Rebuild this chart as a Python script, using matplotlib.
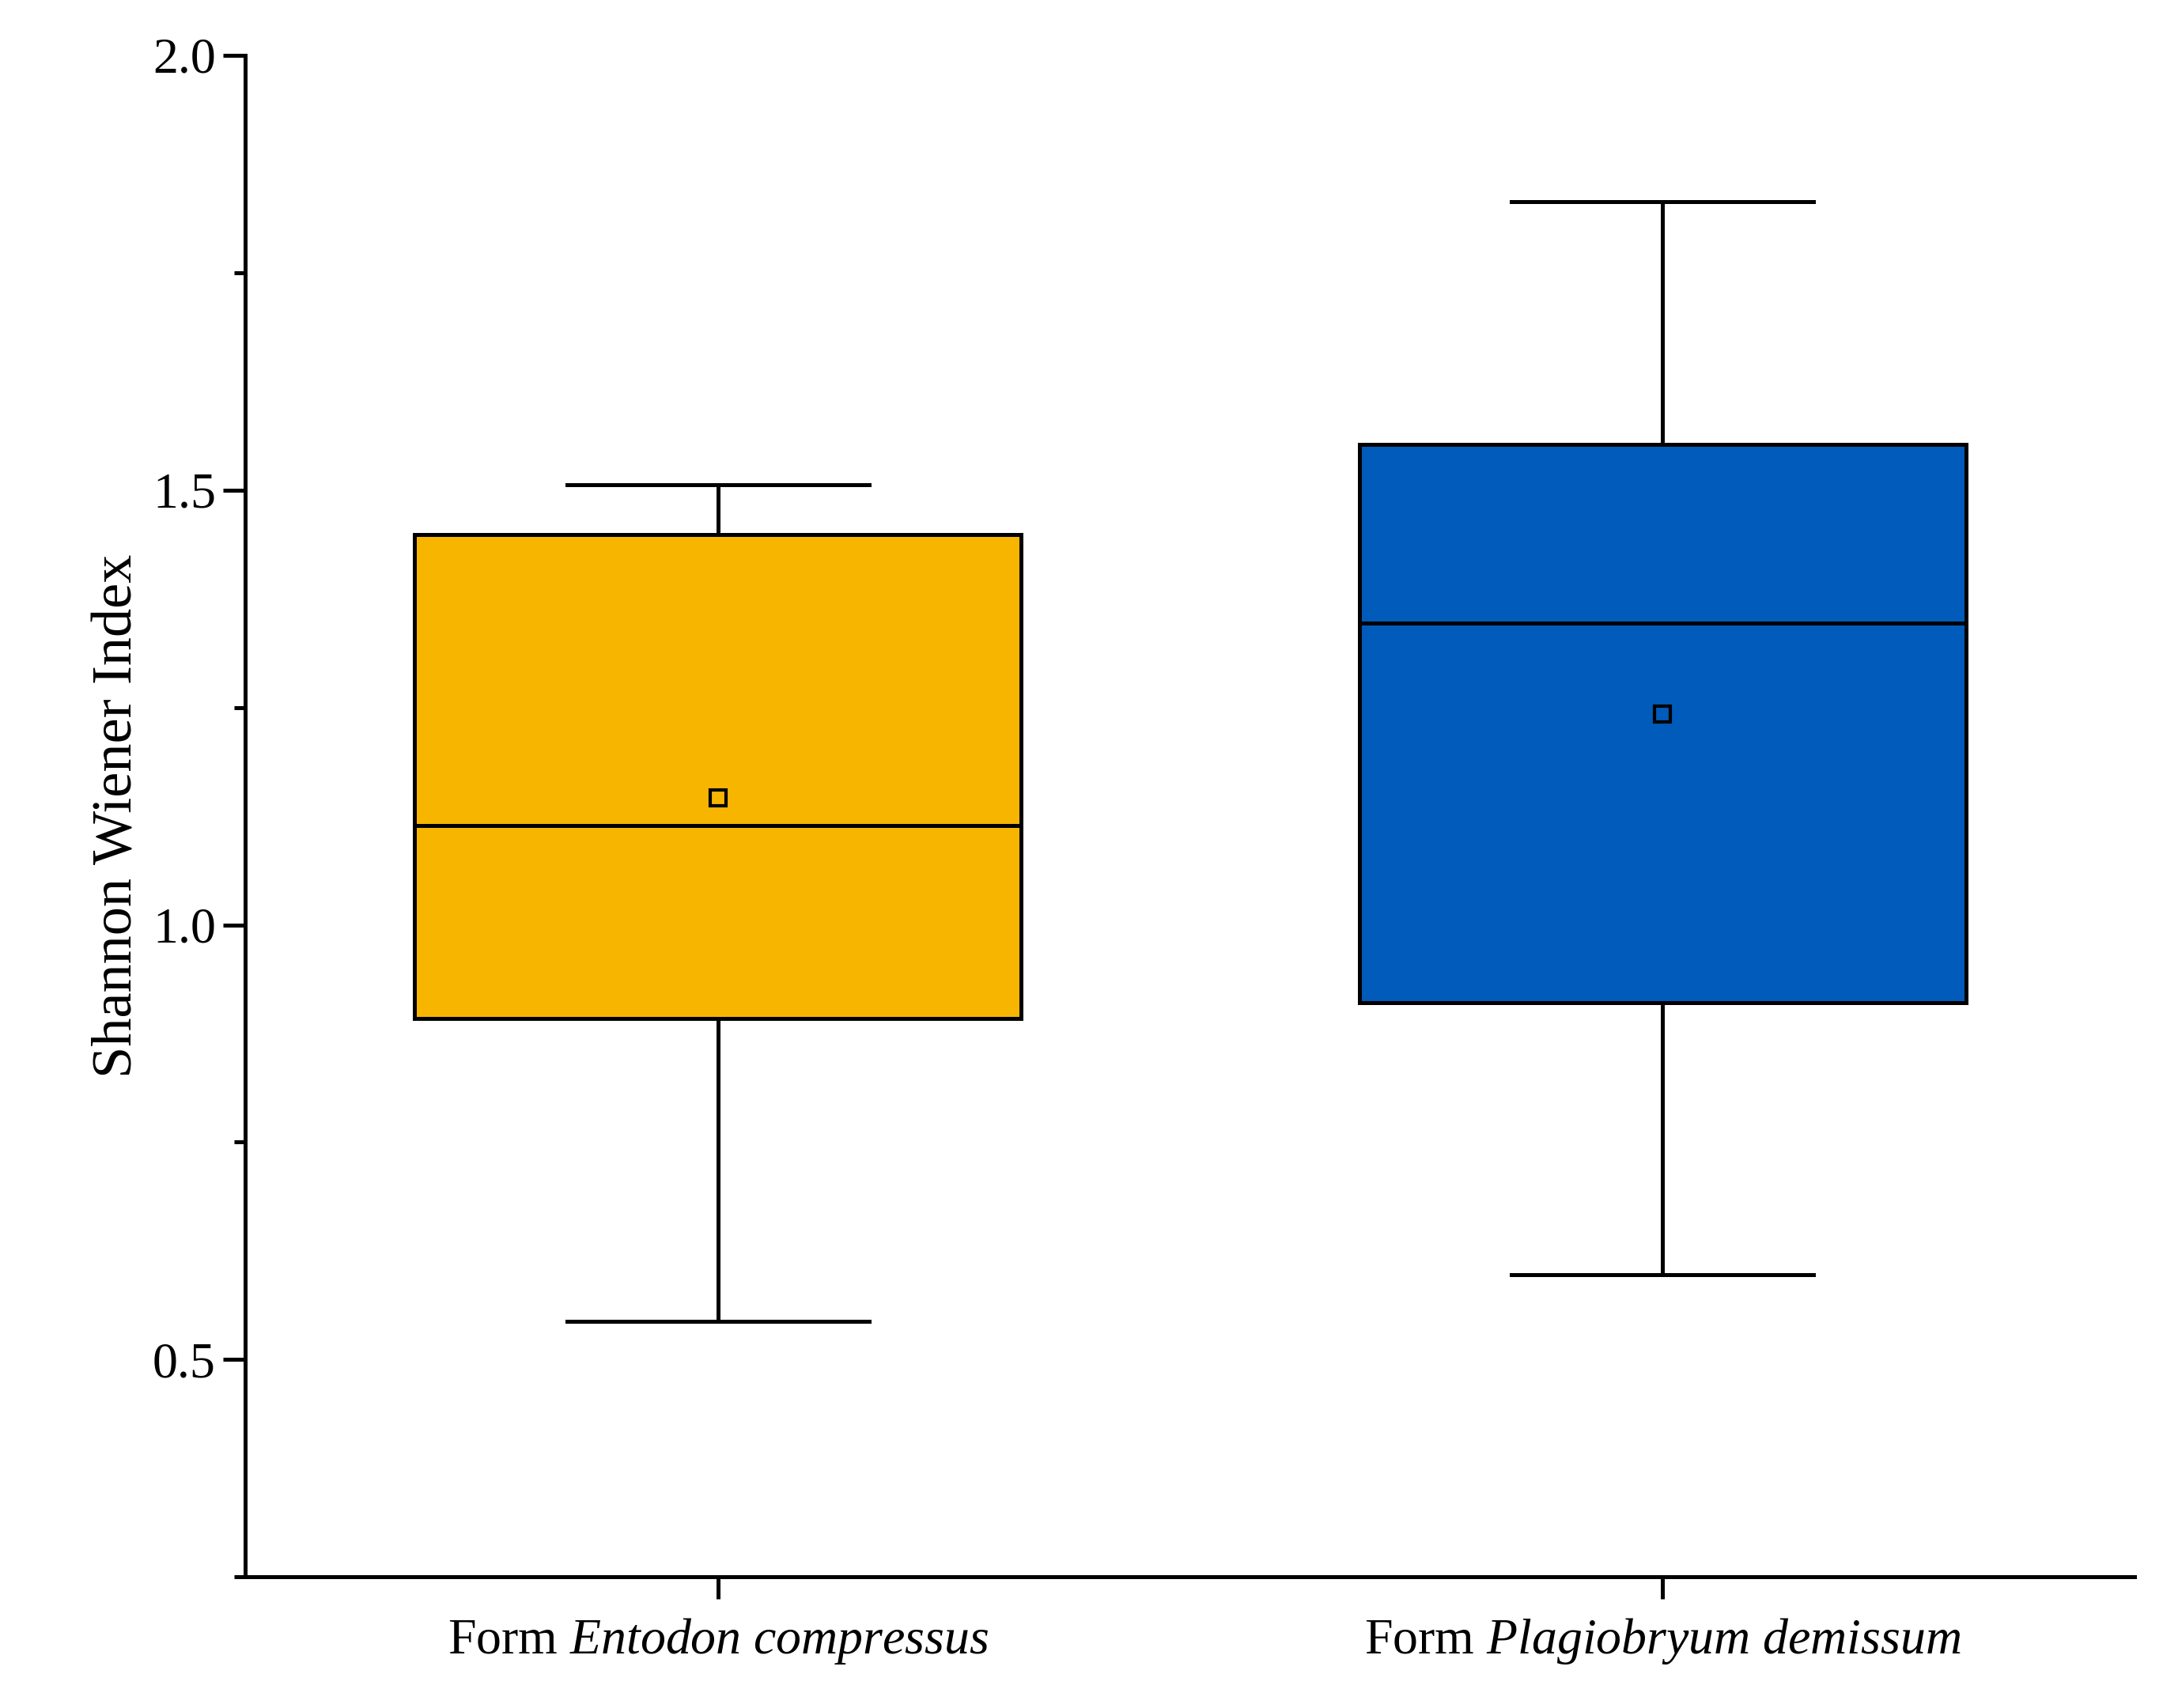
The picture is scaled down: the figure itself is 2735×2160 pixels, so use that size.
import matplotlib
matplotlib.use("Agg")
import matplotlib.pyplot as plt
from matplotlib.ticker import MultipleLocator

plt.rcParams['font.family'] = ['Liberation Serif', 'DejaVu Serif']
plt.rcParams['mathtext.fontset'] = 'custom'
plt.rcParams['mathtext.it'] = 'Liberation Serif:italic'
plt.rcParams['mathtext.rm'] = 'Liberation Serif'

groups = ["Form $\\it{Entodon\\ compressus}$", "Form $\\it{Plagiobryum\\ demissum}$"]
whislo = [0.544, 0.598]
q1 = [0.892, 0.910]
med = [1.114, 1.347]
q3 = [1.449, 1.552]
whishi = [1.506, 1.832]
means = [1.146, 1.242]
colors = ["#F7B500", "#005BBB"]

fig = plt.figure(figsize=(13.675, 10.8), dpi=200)
ax = fig.add_axes([0.1135, 0.0767, 0.8735, 0.891])
stats = [dict(whislo=whislo[i], q1=q1[i], med=med[i], q3=q3[i], whishi=whishi[i],
              mean=means[i], fliers=[]) for i in range(2)]
lw = 1.8
bp = ax.bxp(stats, positions=[1, 2], widths=0.642, patch_artist=True, showmeans=True,
            boxprops=dict(linewidth=lw, edgecolor='black'),
            medianprops=dict(color='black', linewidth=lw),
            whiskerprops=dict(color='black', linewidth=lw),
            capprops=dict(color='black', linewidth=lw), capwidths=0.32,
            meanprops=dict(marker='s', markerfacecolor='none', markeredgecolor='black',
                           markersize=7, markeredgewidth=1.5))
for p, c in zip(bp['boxes'], colors):
    p.set_facecolor(c)

ax.set_xlim(0.5, 2.5)
ax.set_ylim(0.25, 2.0)
ax.set_xticks([1, 2])
ax.set_xticklabels(groups, fontsize=23)
ax.yaxis.set_major_locator(MultipleLocator(0.5))
ax.yaxis.set_minor_locator(MultipleLocator(0.25))
ax.set_yticks([0.5, 1.0, 1.5, 2.0])
ax.set_yticklabels(["0.5", "1.0", "1.5", "2.0"], fontsize=23)
ax.set_ylabel("Shannon Wiener Index", fontsize=26)
for s in ['top', 'right']:
    ax.spines[s].set_visible(False)
for s in ['left', 'bottom']:
    ax.spines[s].set_linewidth(lw)
ax.tick_params(axis='both', which='major', length=10, width=lw, direction='out')
ax.tick_params(axis='y', which='minor', length=5, width=lw)
ax.tick_params(axis='x', pad=8)
fig.savefig("out.png", dpi=200)
